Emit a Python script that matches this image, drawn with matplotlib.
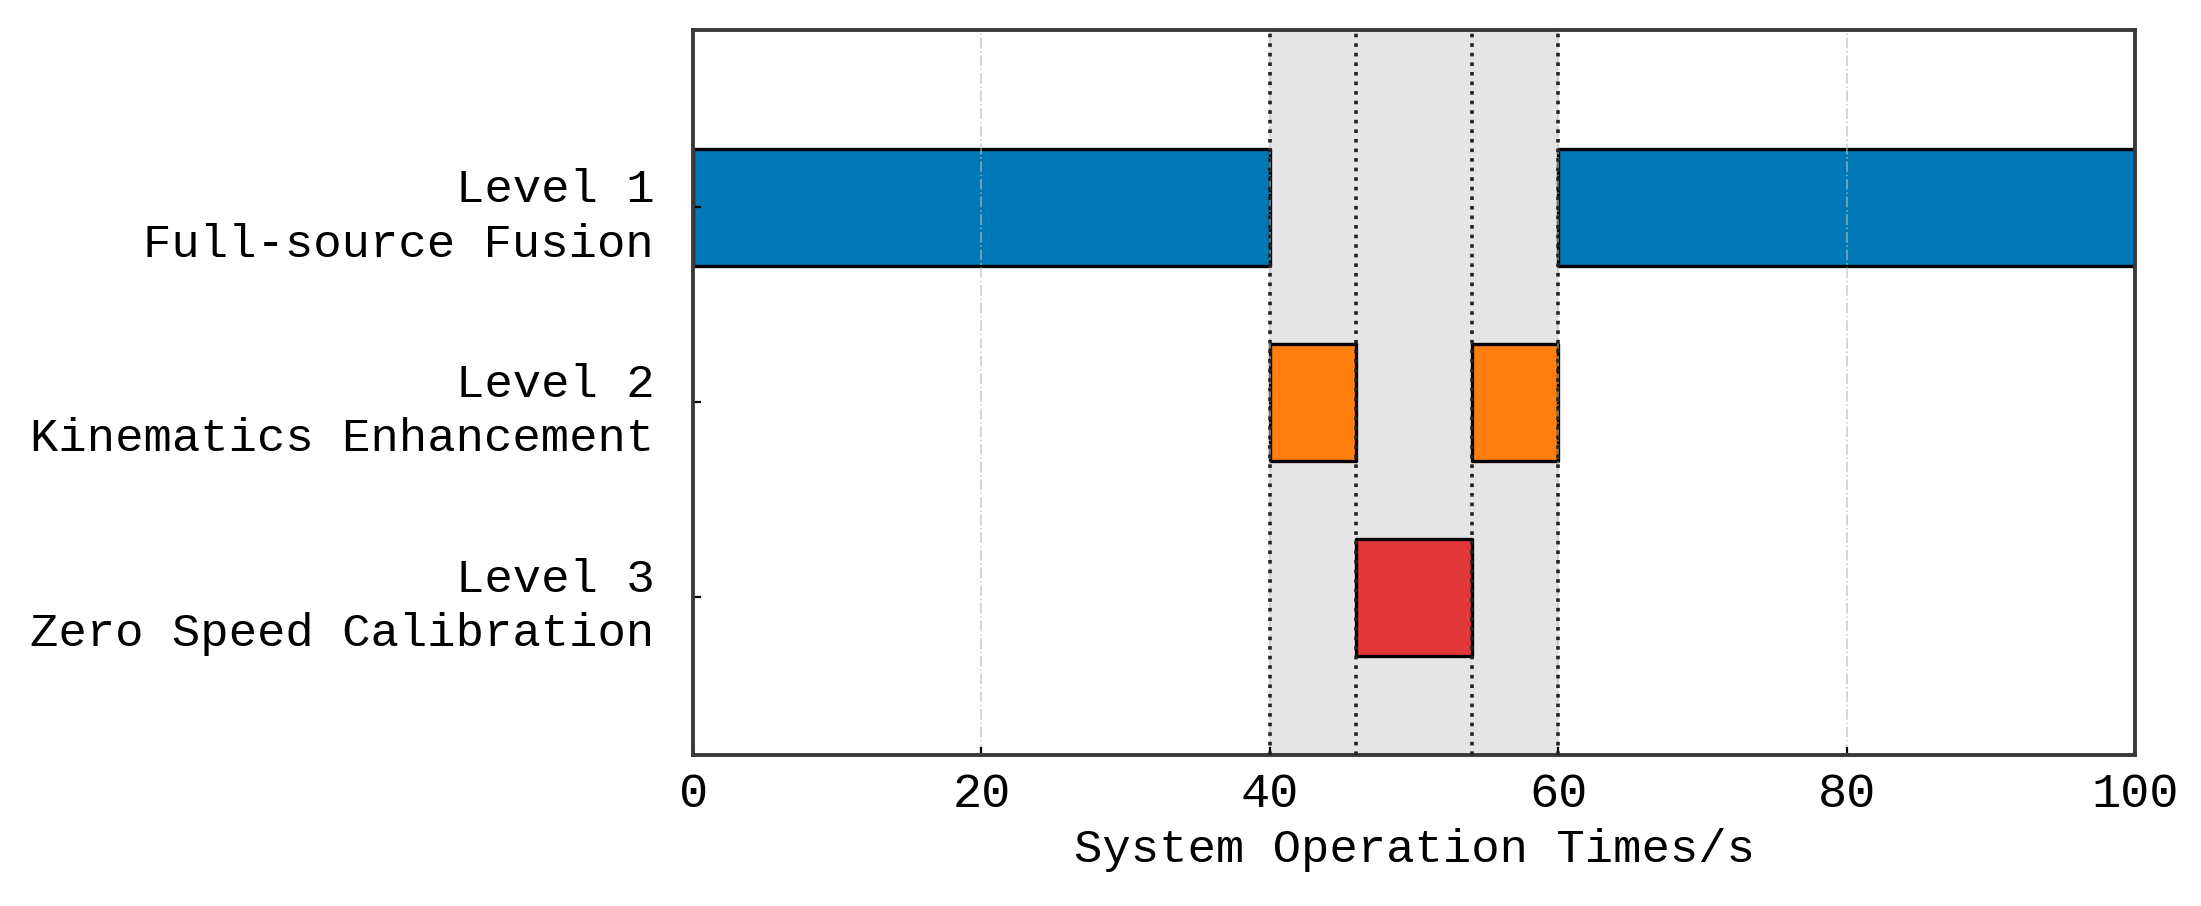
import matplotlib
matplotlib.use("Agg")
import matplotlib.pyplot as plt

# levels, top to bottom
levels = ["Level 1\nFull-source Fusion",
          "Level 2\nKinematics Enhancement",
          "Level 3\nZero Speed Calibration"]
level_y = [3, 2, 1]

# active intervals (start, duration) for each level, in seconds
level1_spans = [(0, 40), (60, 40)]
level2_spans = [(40, 6), (54, 6)]
level3_spans = [(46, 8)]

colors = ["#0077B6", "#FF7F0E", "#E3363A"]

# switching instants and transition window
switch_times = [40, 46, 54, 60]
transition = (40, 60)

xticks = [0, 20, 40, 60, 80, 100]

plt.rcParams['font.family'] = ['Liberation Mono', 'DejaVu Sans Mono']

fig = plt.figure(figsize=(11.005, 4.53), dpi=200)
ax = fig.add_axes([0.3149, 0.1667, 0.6551, 0.8002])

ax.axvspan(transition[0], transition[1], color="#e5e5e5", zorder=0, lw=0)

for spans, y, c in zip([level1_spans, level2_spans, level3_spans], level_y, colors):
    ax.broken_barh(spans, (y - 0.3, 0.6), facecolors=c, edgecolor="black", linewidth=1.2)

for t in switch_times:
    ax.axvline(t, color="#222222", linestyle=":", linewidth=1.3, zorder=3)

ax.set_xlim(0, 100)
ax.set_ylim(0.19, 3.91)
ax.set_xticks(xticks)
ax.set_yticks(level_y)
ax.set_yticklabels(levels, fontsize=17, linespacing=1.3)
ax.tick_params(axis="x", labelsize=17.5, direction="in", length=3, pad=6)
ax.tick_params(axis="y", direction="in", length=3, pad=14)
ax.xaxis.grid(True, linestyle="-.", color="#bbbbbb", linewidth=0.6, alpha=0.7)

for s in ax.spines.values():
    s.set_linewidth(1.4)
    s.set_color("#3a3a3a")

ax.set_xlabel("System Operation Times/s", fontsize=17, labelpad=4)

fig.savefig("out.png", dpi=200)
